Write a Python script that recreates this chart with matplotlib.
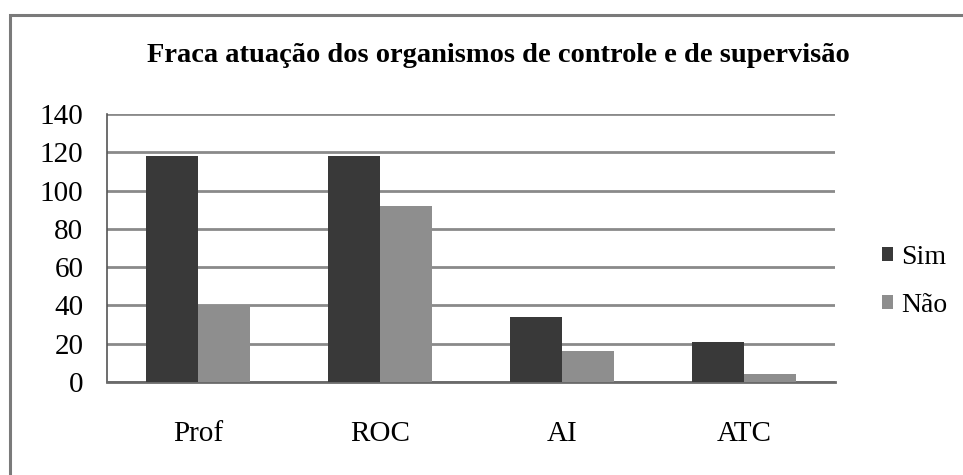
import numpy as np
import matplotlib
matplotlib.use("Agg")
import matplotlib.pyplot as plt
from matplotlib.patches import Rectangle

categories = ["Prof", "ROC", "AI", "ATC"]
sim = [118, 118, 34, 21]
nao = [40, 92, 16, 4]
yticks = [0, 20, 40, 60, 80, 100, 120, 140]

plt.rcParams["font.family"] = ["Liberation Serif", "DejaVu Serif"]

W, H = 963, 475
fig = plt.figure(figsize=(W / 100, H / 100), dpi=100)

# outer frame of the chart box
fig.patches.append(Rectangle((10 / W, -0.05), 1.0, 1 - 15 / H + 0.05,
                             transform=fig.transFigure, fill=False,
                             edgecolor="#7a7a7a", linewidth=2.2))

ax = fig.add_axes([107 / W, 1 - 382 / H, (835 - 107) / W, (382 - 114) / H])

x = np.arange(len(categories))
w = 0.286
ax.bar(x - w / 2, sim, w, color="#393939", label="Sim", zorder=3)
ax.bar(x + w / 2, nao, w, color="#8e8e8e", label="Não", zorder=3)

ax.set_xlim(-0.5, len(categories) - 0.5)
ax.set_ylim(0, 140)
ax.set_yticks(yticks)
ax.set_xticks(x)
ax.set_xticklabels(categories, fontsize=21)
ax.tick_params(axis="x", length=0, pad=28)
ax.tick_params(axis="y", length=0, pad=17, labelsize=21)

ax.yaxis.grid(True, color="#8a8a8a", linewidth=2.0, zorder=0)
ax.set_axisbelow(True)
for s in ["top", "right"]:
    ax.spines[s].set_visible(False)
ax.spines["left"].set_color("#555555")
ax.spines["left"].set_linewidth(1.2)
ax.spines["bottom"].set_color("#6a6a6a")
ax.spines["bottom"].set_linewidth(2.0)

fig.text(498 / W, 1 - 62 / H, "Fraca atuação dos organismos de controle e de supervisão",
         ha="center", va="baseline", fontsize=20.5, fontweight="bold")

ax.legend(loc="center left", bbox_to_anchor=(1.03, 0.375), frameon=False,
          fontsize=20, handlelength=0.4, handleheight=0.4, handletextpad=0.3,
          labelspacing=0.85)

fig.savefig("out.png", dpi=100)
